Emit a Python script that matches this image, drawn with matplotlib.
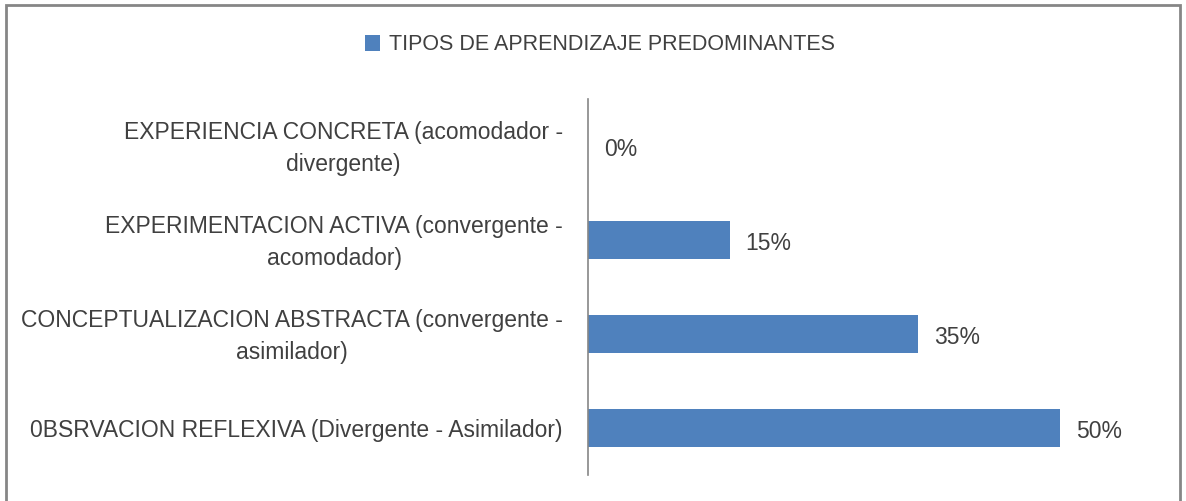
import matplotlib
matplotlib.use("Agg")
import matplotlib.pyplot as plt
from matplotlib.patches import Rectangle
from matplotlib.transforms import ScaledTranslation

categorias = [
    "0BSRVACION REFLEXIVA (Divergente - Asimilador)",
    "CONCEPTUALIZACION ABSTRACTA (convergente -\nasimilador)",
    "EXPERIMENTACION ACTIVA (convergente -\nacomodador)",
    "EXPERIENCIA CONCRETA (acomodador -\ndivergente)",
]
valores = [50, 35, 15, 0]
serie = "TIPOS DE APRENDIZAJE PREDOMINANTES"

color_barra = "#4F81BD"
color_texto = "#404040"
color_borde = "#868686"

plt.rcParams['font.family'] = ['Liberation Sans', 'DejaVu Sans']

fig = plt.figure(figsize=(11.86, 5.01), dpi=100)
ax = fig.add_axes([588 / 1186, 1 - 475 / 501, (1154 - 588) / 1186, (475 - 99) / 501])

y = list(range(len(categorias)))
bars = ax.barh(y, valores, height=0.4, color=color_barra, label=serie)

for b, v in zip(bars, valores):
    ax.annotate(f"{v}%", (b.get_width(), b.get_y() + b.get_height() / 2),
                xytext=(16, -3), textcoords="offset pixels",
                ha="left", va="center", fontsize=16.5, color=color_texto)

ax.set_yticks(y)
ax.set_yticklabels(categorias, fontsize=16.5, color=color_texto,
                   multialignment="center", linespacing=1.45)
ax.tick_params(axis="y", length=0, pad=18)
# subir un poco las etiquetas de dos lineas
desplaza = ScaledTranslation(0, 4 / 100, fig.dpi_scale_trans)
for lab in ax.get_yticklabels():
    if "\n" in lab.get_text():
        lab.set_transform(lab.get_transform() + desplaza)
ax.set_xticks([])
ax.set_xlim(0, 60)
ax.set_ylim(-0.5, len(categorias) - 0.5)
for s in ["top", "right", "bottom"]:
    ax.spines[s].set_visible(False)
ax.spines["left"].set_color(color_borde)
ax.spines["left"].set_linewidth(1.2)

fig.legend(loc="center", bbox_to_anchor=(600 / 1186, 1 - 45 / 501), frameon=False,
           fontsize=15.5, handlelength=0.7, handleheight=0.7, handletextpad=0.4,
           labelcolor=color_texto)

# borde del grafico
fig.patches.append(Rectangle((6 / 1186, -0.05), (1180 - 6) / 1186, 1.05 - 5 / 501,
                             transform=fig.transFigure, fill=False,
                             edgecolor=color_borde, linewidth=2))

fig.savefig("out.png", dpi=100, facecolor="white")
